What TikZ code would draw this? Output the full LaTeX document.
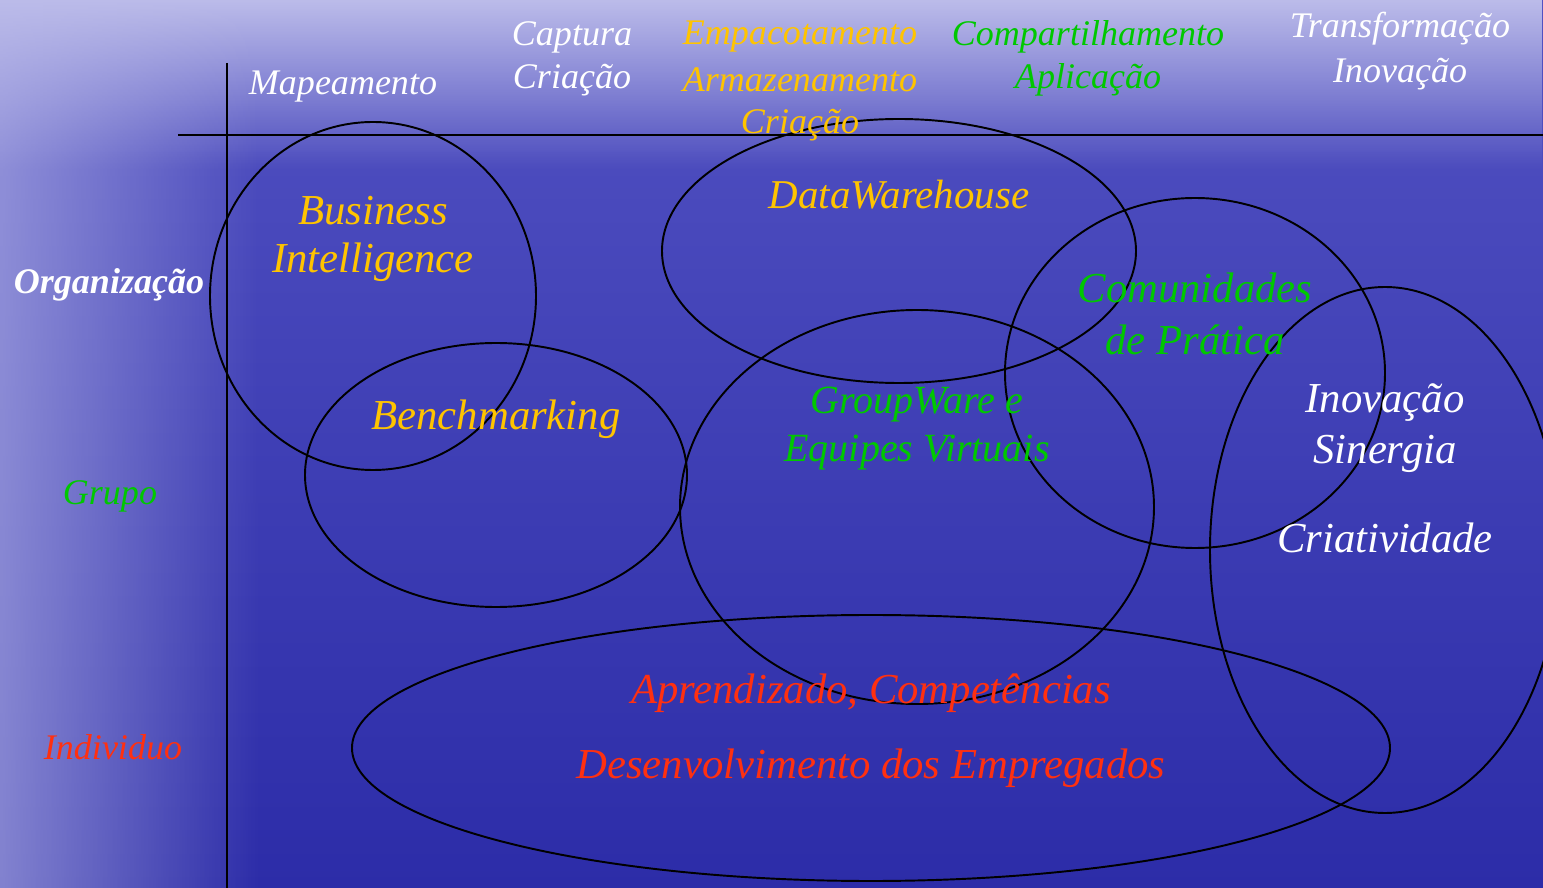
\documentclass[tikz,border=0pt]{standalone}
\usepackage{fontspec}
\setmainfont{Liberation Serif}
\usepackage{xcolor}
\usetikzlibrary{fadings}
\definecolor{SkyTop}{RGB}{188, 188, 234}
\definecolor{SeaMid}{RGB}{82, 82, 194}
\definecolor{SeaDeep}{RGB}{44, 44, 168}
\definecolor{Gold}{RGB}{255, 196, 0}
\definecolor{Leaf}{RGB}{0, 200, 0}
\definecolor{Flame}{RGB}{255, 48, 16}
\tikzfading[name=fadeleft, left color=transparent!0, right color=transparent!100]
\tikzfading[name=fadetop, top color=transparent!0, bottom color=transparent!100]

\begin{document}
\begin{tikzpicture}[x = 0.02cm, y = -0.02cm,
    rotulo/.style = {font = \itshape\fontsize{20.5}{24}\selectfont, inner sep = 0pt},
    grande/.style = {font = \itshape\fontsize{24.3}{28}\selectfont, inner sep = 0pt},
    oval/.style = {line width = 1.1pt}]
            %背景
            \useasboundingbox (0, 0) rectangle (1543, 888);
            \shade[top color = SeaMid, bottom color = SeaDeep] (0, 0) rectangle (1543, 888);
            \fill[SkyTop, path fading = fadetop] (0, 0) rectangle (1543, 170);
            \fill[SkyTop, opacity = 0.6, path fading = fadeleft] (0, 0) rectangle (260, 888);
            %坐标轴
            \draw[line width = 1.1pt] (178, 135) -- (1543, 135);
            \draw[line width = 1.1pt] (227, 63) -- (227, 888);
            %椭圆
            \draw[oval] (373, 296) ellipse [x radius = 163, y radius = 174];
            \draw[oval] (496, 475) ellipse [x radius = 191, y radius = 132];
            \draw[oval] (899, 251) ellipse [x radius = 237, y radius = 132];
            \draw[oval] (917, 507) ellipse [x radius = 237, y radius = 197];
            \draw[oval] (1195, 373) ellipse [x radius = 190, y radius = 175];
            \draw[oval] (1385, 550) ellipse [x radius = 175, y radius = 263];
            \draw[oval] (871, 748) ellipse [x radius = 519, y radius = 133];
            %顶部标注
            \node[rotulo, white] (mapa) at (343, 87) {Mapeamento};
            \node[rotulo, white] (captura) at (572, 37) {Captura};
            \node[rotulo, white] (criacaoA) at (572, 80) {Criação};
            \node[rotulo, Gold] (empac) at (800, 37) {Empacotamento};
            \node[rotulo, Gold] (armaz) at (800, 80) {Armazenamento};
            \node[rotulo, Gold] (criacaoB) at (800, 125) {Criação};
            \node[rotulo, Leaf] (compart) at (1088, 37) {Compartilhamento};
            \node[rotulo, Leaf] (aplic) at (1088, 80) {Aplicação};
            \node[rotulo, white] (transf) at (1400, 29) {Transformação};
            \node[rotulo, white] (inovA) at (1400, 74) {Inovação};
            %左侧标注
            \node[rotulo, white, font = \bfseries\itshape\fontsize{20.5}{24}\selectfont] (org) at (109, 285) {Organização};
            \node[rotulo, Leaf] (grupo) at (110, 496) {Grupo};
            \node[rotulo, Flame] (indiv) at (113, 747) {Individuo};
            %椭圆内文字
            \node[grande, Gold] (bus) at (373, 211) {Business};
            \node[grande, Gold] (intel) at (373, 262) {Intelligence};
            \node[grande, Gold] (bench) at (496, 419) {Benchmarking};
            \node[grande, Gold, font = \itshape\fontsize{23.3}{27}\selectfont] (dw) at (899, 195) {DataWarehouse};
            \node[grande, Leaf, font = \itshape\fontsize{22.8}{26}\selectfont] (gw) at (917, 405) {GroupWare e};
            \node[grande, Leaf, font = \itshape\fontsize{22.8}{26}\selectfont] (equip) at (917, 453) {Equipes Virtuais};
            \node[grande, Leaf] (comun) at (1195, 288) {Comunidades};
            \node[grande, Leaf] (prat) at (1195, 340) {de Prática};
            \node[grande, white] (inovB) at (1385, 403) {Inovação};
            \node[grande, white] (sinerg) at (1385, 454) {Sinergia};
            \node[grande, white] (criat) at (1385, 538) {Criatividade};
            \node[grande, Flame] (aprend) at (871, 693) {Aprendizado, Competências};
            \node[grande, Flame] (desenv) at (871, 768) {Desenvolvimento dos Empregados};
        \end{tikzpicture}
\end{document}
